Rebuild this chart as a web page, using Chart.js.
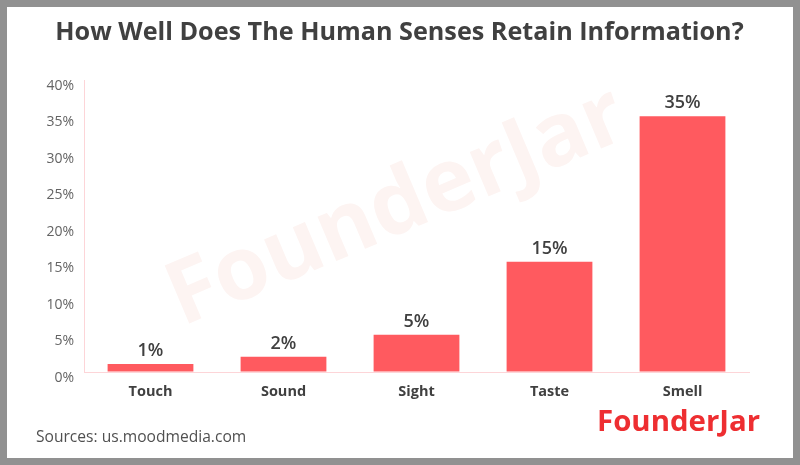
<!DOCTYPE html>
<html>
<head>
<meta charset="utf-8">
<title>How Well Does The Human Senses Retain Information?</title>
<script src="https://cdn.jsdelivr.net/npm/chart.js@4"></script>
<style>
    html, body { margin: 0; padding: 0; background: #fff; }
    #frame { width: 800px; height: 465px; box-sizing: border-box; border: 7px solid #919191; background: #fff; }
    canvas { display: block; }
</style>
</head>
<body>
<div id="frame"><canvas id="sensesChart" width="786" height="451"></canvas></div>
<script>
const categories = ['Touch', 'Sound', 'Sight', 'Taste', 'Smell'];
const retention = [1.1, 2.1, 5.1, 15.1, 35.05];
const valueLabels = ['1%', '2%', '5%', '15%', '35%'];
const yTickLabels = ['0%', '5%', '10%', '15%', '20%', '25%', '30%', '35%', '40%'];
const chartTitle = 'How Well Does The Human Senses Retain Information?';

const FONT = "'Open Sans', sans-serif";

// watermark goes under the bars
const watermarkPlugin = {
    id: 'watermarkPlugin',
    beforeDatasetsDraw(chart) {
        const { ctx } = chart;
        ctx.save();
        ctx.translate(390, 201);
        ctx.rotate(-23 * Math.PI / 180);
        ctx.fillStyle = '#fdf4f2';
        ctx.font = '700 88px ' + FONT;
        ctx.textAlign = 'center';
        ctx.textBaseline = 'middle';
        ctx.fillText('FounderJar', 0, 0);
        ctx.restore();
    }
};

// title, percent labels on top of the bars, source and logo text
const labelsPlugin = {
    id: 'labelsPlugin',
    afterDatasetsDraw(chart) {
        const { ctx } = chart;
        const meta = chart.getDatasetMeta(0);
        ctx.save();
        ctx.fillStyle = '#404040';
        ctx.font = '700 25.2px ' + FONT;
        ctx.textAlign = 'center';
        ctx.textBaseline = 'middle';
        ctx.fillText(chartTitle, 392.5, 26);

        ctx.font = '600 18px ' + FONT;
        ctx.textBaseline = 'bottom';
        meta.data.forEach((bar, i) => {
            ctx.fillText(valueLabels[i], bar.x, bar.y - 4);
        });

        ctx.textAlign = 'left';
        ctx.textBaseline = 'middle';
        ctx.fillStyle = '#505050';
        ctx.font = '400 15.6px ' + FONT;
        ctx.fillText('Sources: us.moodmedia.com', 29, 431);

        ctx.fillStyle = '#ee2e31';
        ctx.font = '700 29.4px ' + FONT;
        ctx.fillText('FounderJar', 590, 416);
        ctx.restore();
    }
};

new Chart(document.getElementById('sensesChart').getContext('2d'), {
    type: 'bar',
    data: {
        labels: categories,
        datasets: [{
            data: retention,
            backgroundColor: '#ff5a5f',
            borderWidth: 0,
            barPercentage: 0.645,
            categoryPercentage: 1
        }]
    },
    plugins: [watermarkPlugin, labelsPlugin],
    options: {
        responsive: false,
        devicePixelRatio: 1,
        animation: false,
        layout: { padding: { top: 73, left: 0, right: 44, bottom: 0 } },
        plugins: {
            legend: { display: false },
            tooltip: { enabled: false }
        },
        scales: {
            y: {
                min: 0,
                max: 40,
                afterFit(scale) { scale.width = 77; },
                afterBuildTicks(scale) { scale.ticks = yTickLabels.map(t => ({ value: parseInt(t) })); },
                grid: { drawOnChartArea: false, drawTicks: false },
                border: { color: '#fdd5d8', width: 1 },
                ticks: {
                    padding: 10,
                    labelOffset: 6,
                    color: '#646464',
                    font: { family: FONT, size: 14 },
                    callback: v => v + '%'
                }
            },
            x: {
                afterFit(scale) { scale.height = 86; },
                grid: { display: false, drawTicks: false },
                border: { color: '#fdd5d8', width: 1 },
                ticks: {
                    padding: 11,
                    color: '#404040',
                    font: { family: FONT, size: 14.5, weight: '700' }
                }
            }
        }
    }
});
</script>
</body>
</html>
